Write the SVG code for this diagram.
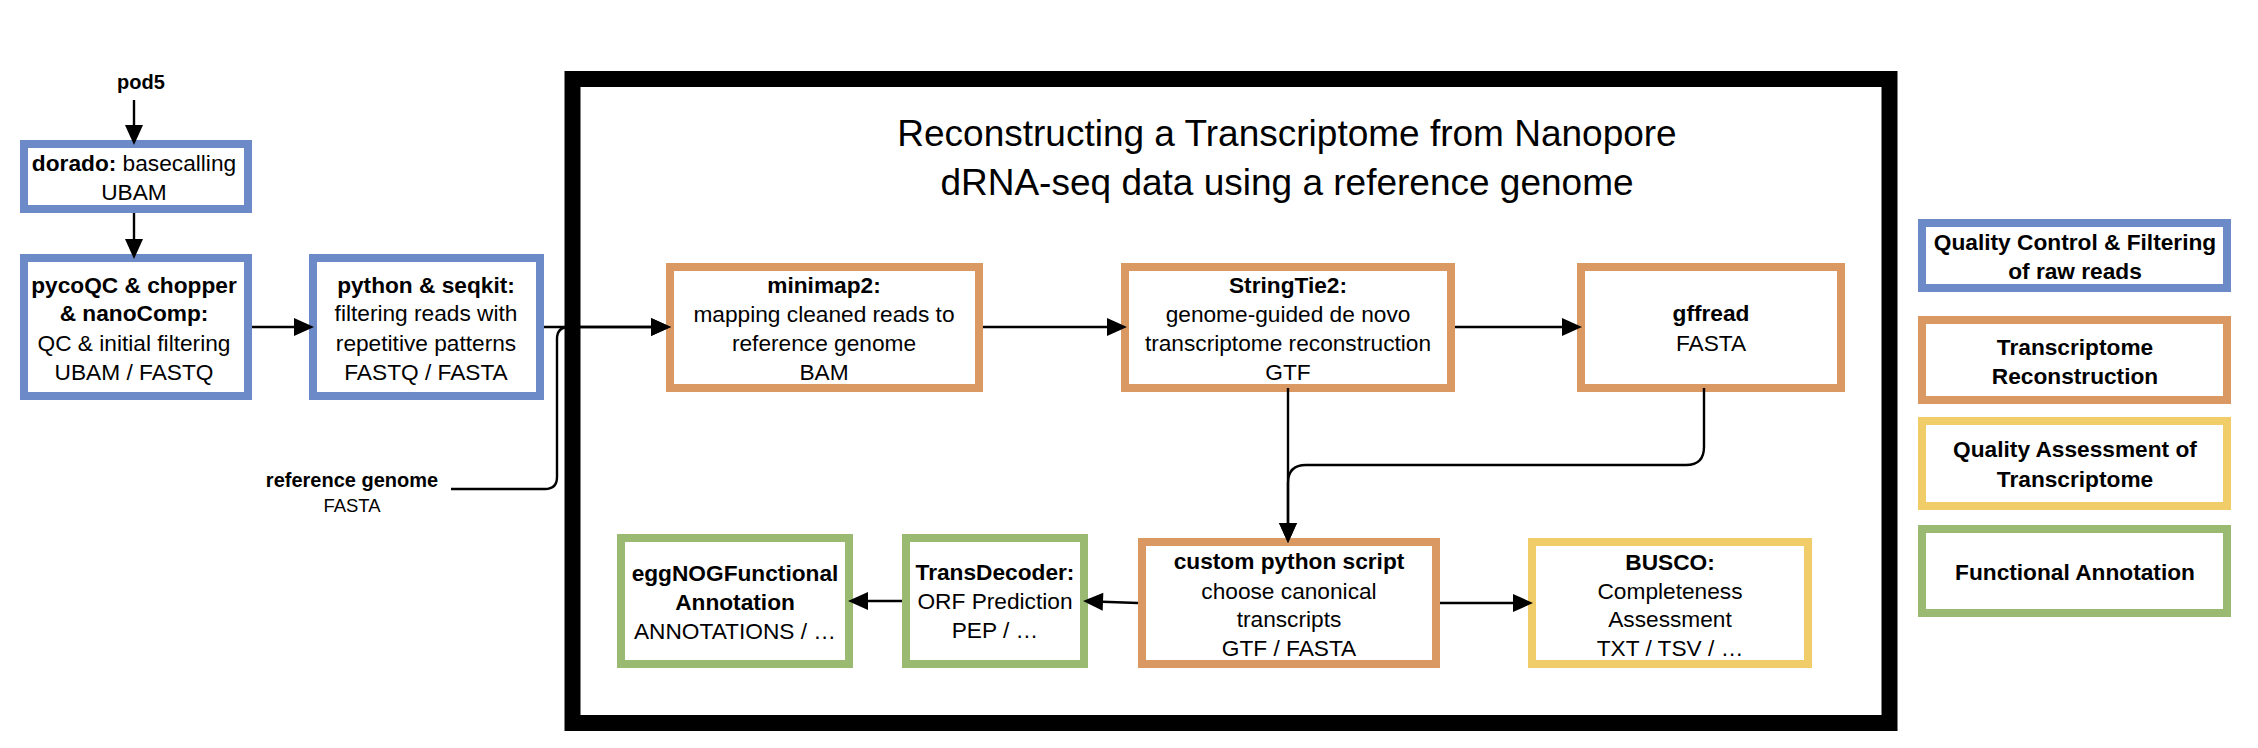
<svg xmlns="http://www.w3.org/2000/svg" width="2258" height="748" viewBox="0 0 2258 748">
<style>
  text { font-family: "Liberation Sans", Arial, Helvetica, sans-serif; font-size: 22.7px; text-anchor: middle; fill: #000; }
  .b { font-weight: bold; }
  .lbl { font-size: 20px; }
  .title { font-size: 37px; }
  .box { fill: #fff; stroke-width: 8; }
  .blue { stroke: #6C8AC8; }
  .orange { stroke: #DA9862; }
  .yellow { stroke: #F0CD69; }
  .green { stroke: #9ABA72; }
  .edge { fill: none; stroke: #000; stroke-width: 2.4; }
</style>
<defs>
  <marker id="arrow" markerUnits="userSpaceOnUse" markerWidth="21" markerHeight="18" refX="1" refY="9" orient="auto" overflow="visible">
    <path d="M0,0 L20,9 L0,18 z" fill="#000"/>
  </marker>
</defs>
<rect x="0" y="0" width="2258" height="748" fill="#fff"/>

<g id="frame">
  <rect x="572.5" y="79" width="1317" height="644" fill="none" stroke="#000" stroke-width="16"/>
</g>
<g id="title">
  <text class="title" x="1287" y="146">Reconstructing a Transcriptome from Nanopore</text>
  <text class="title" x="1287" y="195">dRNA-seq data using a reference genome</text>
</g>

<g id="pod5">
  <text class="lbl b" x="141" y="89">pod5</text>
</g>
<g id="dorado">
  <rect class="box blue" x="24" y="144" width="224" height="65"/>
  <text x="134" y="171"><tspan class="b">dorado:</tspan> basecalling</text>
  <text x="134" y="200">UBAM</text>
</g>
<g id="pycoqc">
  <rect class="box blue" x="24" y="258" width="224" height="138"/>
  <text class="b" x="134" y="293">pycoQC &amp; chopper</text>
  <text class="b" x="134" y="321">&amp; nanoComp:</text>
  <text x="134" y="351">QC &amp; initial filtering</text>
  <text x="134" y="380">UBAM / FASTQ</text>
</g>
<g id="python-seqkit">
  <rect class="box blue" x="313" y="258" width="227" height="138"/>
  <text class="b" x="426" y="293">python &amp; seqkit:</text>
  <text x="426" y="321">filtering reads with</text>
  <text x="426" y="351">repetitive patterns</text>
  <text x="426" y="380">FASTQ / FASTA</text>
</g>
<g id="reference-genome">
  <text class="lbl b" x="352" y="487">reference genome</text>
  <text x="352" y="512" style="font-size:18.5px">FASTA</text>
</g>
<g id="minimap2">
  <rect class="box orange" x="670" y="267" width="309" height="121"/>
  <text class="b" x="824" y="293">minimap2:</text>
  <text x="824" y="322">mapping cleaned reads to</text>
  <text x="824" y="351">reference genome</text>
  <text x="824" y="380">BAM</text>
</g>
<g id="stringtie2">
  <rect class="box orange" x="1125" y="267" width="326" height="121"/>
  <text class="b" x="1288" y="293">StringTie2:</text>
  <text x="1288" y="322">genome-guided de novo</text>
  <text x="1288" y="351">transcriptome reconstruction</text>
  <text x="1288" y="380">GTF</text>
</g>
<g id="gffread">
  <rect class="box orange" x="1581" y="267" width="260" height="121"/>
  <text class="b" x="1711" y="321">gffread</text>
  <text x="1711" y="351">FASTA</text>
</g>
<g id="custom-python">
  <rect class="box orange" x="1142" y="542" width="294" height="122"/>
  <text class="b" x="1289" y="569">custom python script</text>
  <text x="1289" y="599">choose canonical</text>
  <text x="1289" y="627">transcripts</text>
  <text x="1289" y="656">GTF / FASTA</text>
</g>
<g id="busco">
  <rect class="box yellow" x="1532" y="542" width="276" height="122"/>
  <text class="b" x="1670" y="570">BUSCO:</text>
  <text x="1670" y="599">Completeness</text>
  <text x="1670" y="627">Assessment</text>
  <text x="1670" y="656">TXT / TSV / …</text>
</g>
<g id="transdecoder">
  <rect class="box green" x="906" y="538" width="178" height="126"/>
  <text class="b" x="995" y="580">TransDecoder:</text>
  <text x="995" y="609">ORF Prediction</text>
  <text x="995" y="638">PEP / …</text>
</g>
<g id="eggnog">
  <rect class="box green" x="621" y="538" width="228" height="126"/>
  <text class="b" x="735" y="581">eggNOGFunctional</text>
  <text class="b" x="735" y="610">Annotation</text>
  <text x="735" y="639">ANNOTATIONS / …</text>
</g>

<g id="legend-qc">
  <rect class="box blue" x="1922" y="223" width="305" height="65"/>
  <text class="b" x="2075" y="250">Quality Control &amp; Filtering</text>
  <text class="b" x="2075" y="279">of raw reads</text>
</g>
<g id="legend-tr">
  <rect class="box orange" x="1922" y="320" width="305" height="80"/>
  <text class="b" x="2075" y="355">Transcriptome</text>
  <text class="b" x="2075" y="384">Reconstruction</text>
</g>
<g id="legend-qa">
  <rect class="box yellow" x="1922" y="421" width="305" height="85"/>
  <text class="b" x="2075" y="457">Quality Assessment of</text>
  <text class="b" x="2075" y="487">Transcriptome</text>
</g>
<g id="legend-fa">
  <rect class="box green" x="1922" y="529" width="305" height="84"/>
  <text class="b" x="2075" y="580">Functional Annotation</text>
</g>

<g id="connectors">
  <path class="edge" marker-end="url(#arrow)" d="M134 100 V126"/>
  <path class="edge" marker-end="url(#arrow)" d="M134 213 V240"/>
  <path class="edge" marker-end="url(#arrow)" d="M252 327 H295"/>
  <path class="edge" marker-end="url(#arrow)" d="M544 327 H652"/>
  <path class="edge" marker-end="url(#arrow)" d="M451 489 H545 Q557 489 557 477 V339 Q557 327 569 327 H652"/>
  <path class="edge" marker-end="url(#arrow)" d="M983 327 H1108"/>
  <path class="edge" marker-end="url(#arrow)" d="M1455 327 H1563"/>
  <path class="edge" marker-end="url(#arrow)" d="M1288 388 V524"/>
  <path class="edge" marker-end="url(#arrow)" d="M1704 388 V447 Q1704 465 1686 465 H1306 Q1288 465 1288 483 V524"/>
  <path class="edge" marker-end="url(#arrow)" d="M1440 603 H1514"/>
  <path class="edge" marker-end="url(#arrow)" d="M1138 603 L1102 601.7"/>
  <path class="edge" marker-end="url(#arrow)" d="M902 601 H867"/>
</g>
</svg>
